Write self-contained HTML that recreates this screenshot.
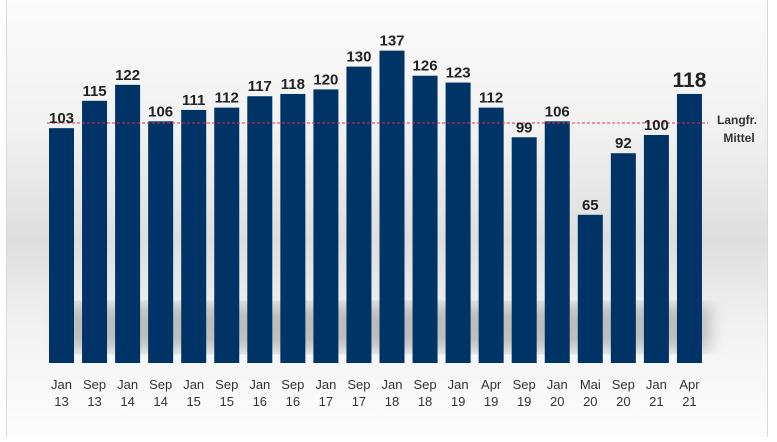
<!DOCTYPE html>
<html><head><meta charset="utf-8"><style>
body{margin:0;width:777px;height:437px;overflow:hidden;background:#fff;font-family:"Liberation Sans",sans-serif}
</style></head><body>
<svg width="777" height="437" xmlns="http://www.w3.org/2000/svg">
<defs>
<linearGradient id="bg" x1="0" y1="0" x2="0" y2="1">
<stop offset="0" stop-color="#fbfbfb"/>
<stop offset="0.3" stop-color="#f1f1f1"/>
<stop offset="0.55" stop-color="#dedede"/>
<stop offset="0.75" stop-color="#f2f2f2"/>
<stop offset="1" stop-color="#fdfdfd"/>
</linearGradient>
<filter id="bl"><feGaussianBlur stdDeviation="8"/></filter>
</defs>
<rect x="7" y="0" width="760" height="437" fill="url(#bg)"/>
<line x1="6.5" y1="0" x2="6.5" y2="437" stroke="#d8d8d8"/>
<line x1="767.5" y1="0" x2="767.5" y2="437" stroke="#d8d8d8"/>
<rect x="60" y="305" width="650" height="45" fill="#9a9a9a" filter="url(#bl)" opacity="0.6"/>
<g id="bars" fill="#003366"></g>
<line x1="47" y1="123" x2="708" y2="123" stroke="#e0304a" stroke-width="1" stroke-dasharray="3,2"/>
<g id="txt" font-weight="bold" fill="#222" text-anchor="middle"></g>
<text x="737" y="124" font-size="12" font-weight="bold" fill="#333" text-anchor="middle">Langfr.</text>
<text x="739" y="142" font-size="12" font-weight="bold" fill="#333" text-anchor="middle">Mittel</text>
</svg>
<script>
var v=[103,115,122,106,111,112,117,118,120,130,137,126,123,112,99,106,65,92,100,118];
var l=[["Jan","13"],["Sep","13"],["Jan","14"],["Sep","14"],["Jan","15"],["Sep","15"],["Jan","16"],["Sep","16"],["Jan","17"],["Sep","17"],["Jan","18"],["Sep","18"],["Jan","19"],["Apr","19"],["Sep","19"],["Jan","20"],["Mai","20"],["Sep","20"],["Jan","21"],["Apr","21"]];
var ns="http://www.w3.org/2000/svg",b=document.getElementById("bars"),t=document.getElementById("txt");
function mk(p,tag,a,s){var e=document.createElementNS(ns,tag);for(var k in a)e.setAttribute(k,a[k]);if(s!=null)e.textContent=s;p.appendChild(e);}
for(var i=0;i<20;i++){var x=49+i*33.05,h=v[i]*2.28,y=363-h;
mk(b,"rect",{x:x,y:y,width:25,height:h});
var last=i==19;
mk(t,"text",{x:x+12.5,y:y-(last?7:5),"font-size":last?21:15},v[i]);
mk(t,"text",{x:x+12.5,y:389,"font-size":13,"font-weight":"normal",fill:"#333"},l[i][0]);
mk(t,"text",{x:x+12.5,y:406,"font-size":13,"font-weight":"normal",fill:"#333"},l[i][1]);}
</script>
</body></html>
